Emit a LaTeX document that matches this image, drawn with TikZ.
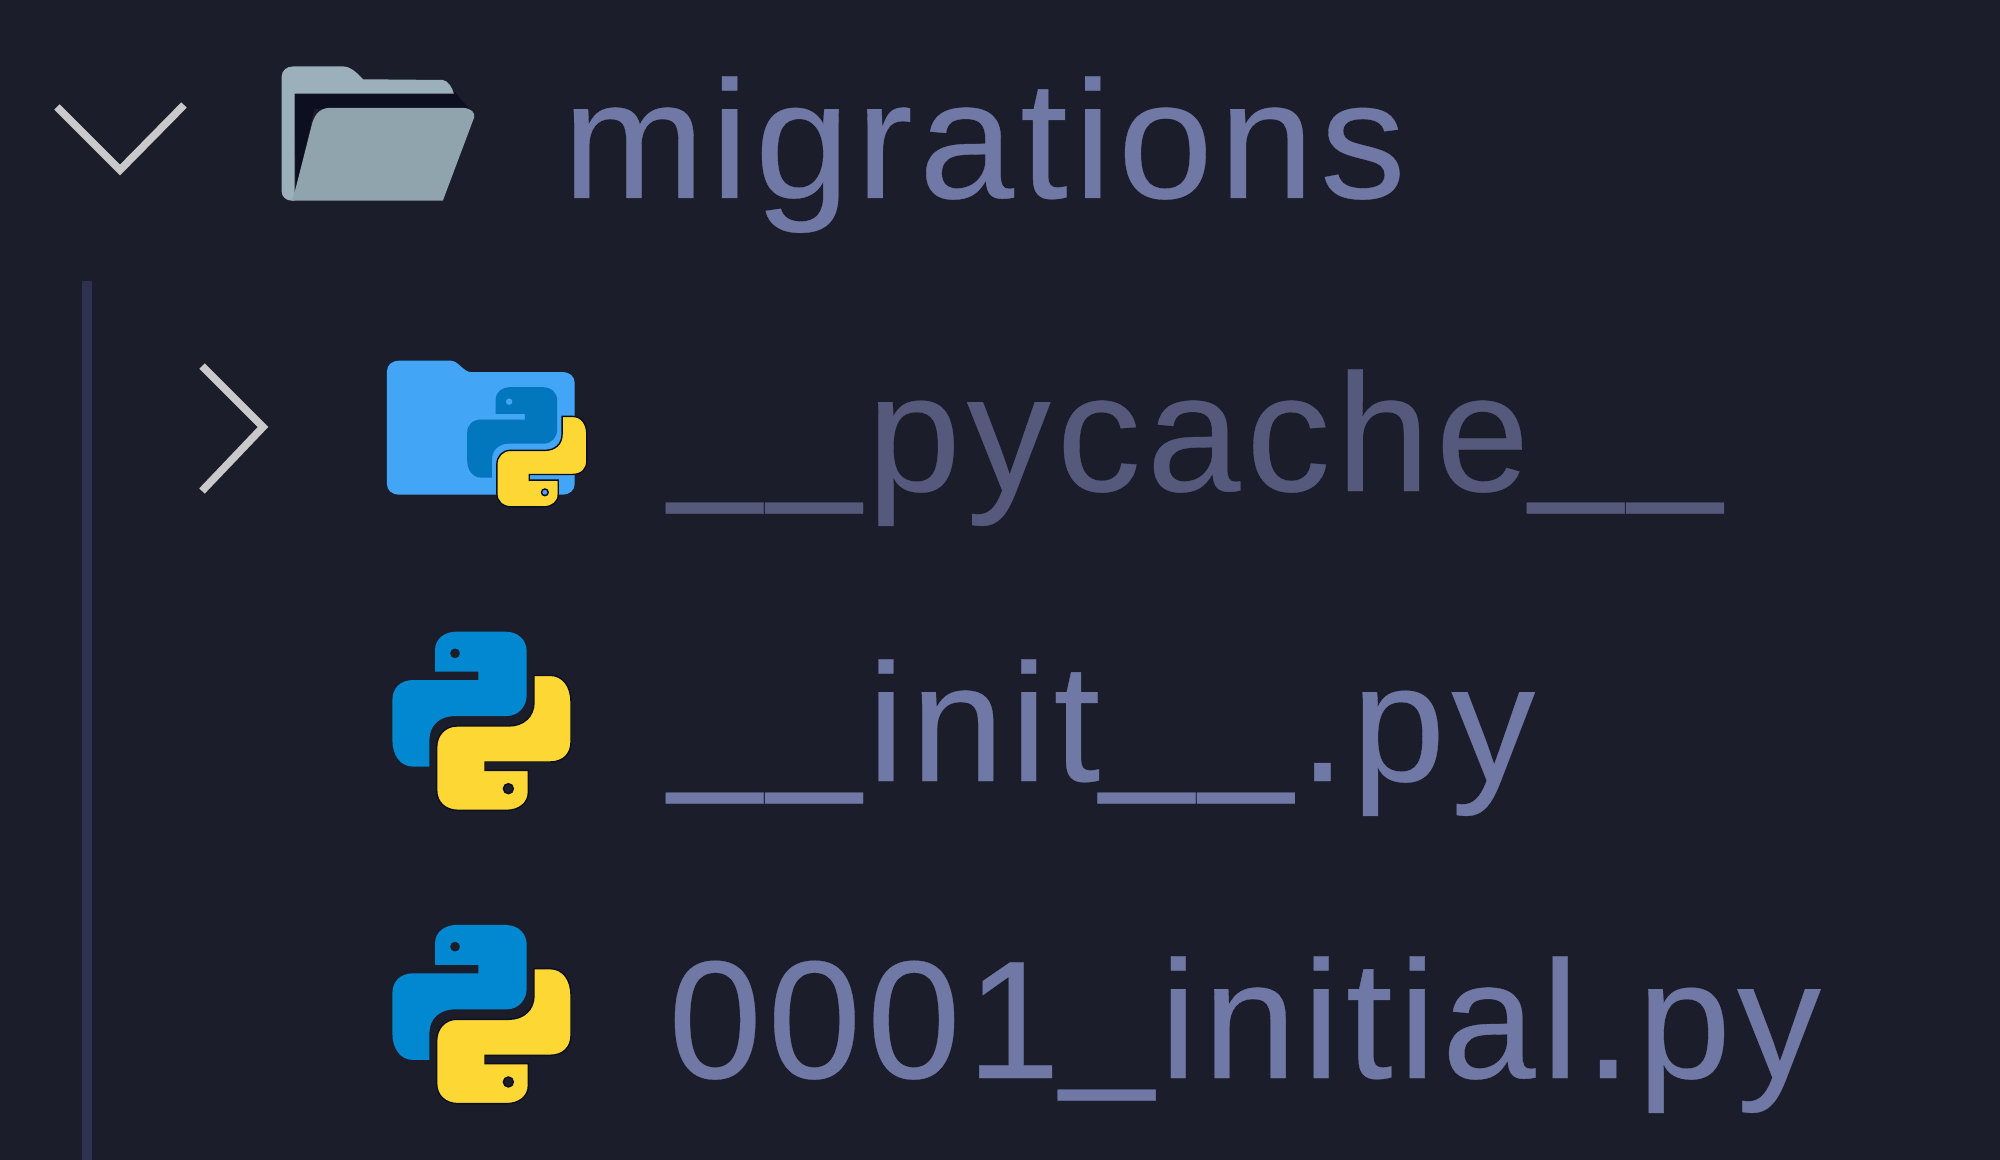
\documentclass[tikz,border=0pt]{standalone}
\usepackage{fontspec}
\setmainfont[LetterSpace = 3.6, FakeBold = 0.2]{Liberation Sans}
\usepackage{tikz}

\definecolor{panelback}{HTML}{1B1D2B}
\definecolor{panelshade}{HTML}{0D0E20}
\definecolor{guideline}{HTML}{2D3250}
\definecolor{chevron}{HTML}{C9C9C9}
\definecolor{nametext}{HTML}{7078A6}
\definecolor{dimtext}{HTML}{555A7C}
\definecolor{folderback}{HTML}{9CB0BC}
\definecolor{folderfront}{HTML}{90A4AE}
\definecolor{folderblue}{HTML}{42A5F5}
\definecolor{pyblue}{HTML}{0288D1}
\definecolor{pybadge}{HTML}{0277BD}
\definecolor{pyyellow}{HTML}{FDD835}

\newcommand{\lowbar}{\raisebox{5.5pt}{\_}\kern 3pt}

\newcommand{\snakehalf}[3]{
  \path [fill = #1, draw = #3, line width = 0.7pt, even odd rule, rotate = #2]
    (-140,-148) -- (-140,-213)
    .. controls (-140,-248) and (-110,-268) .. (-75,-268) -- (70,-268)
    .. controls (110,-268) and (135,-243) .. (135,-208) -- (135,-78)
    .. controls (135,-43) and (110,-15) .. (75,-15) -- (-80,-15)
    .. controls (-125,-15) and (-157,12) .. (-157,57) -- (-157,137) -- (-205,137)
    .. controls (-245,137) and (-268,102) .. (-268,57) -- (-268,-63)
    .. controls (-268,-98) and (-245,-123) .. (-205,-123) -- (-10,-123)
    -- (-10,-148) -- cycle
    (-80,-203) circle [radius = 15];
}

\tikzset{
  pics/python logo/.style = {
    code = {
      \begin{scope}[scale = 1/3]
        \snakehalf{#1}{0}{none}
        \snakehalf{pyyellow}{180}{panelshade}
      \end{scope}
    }
  },
  filename/.style = {
    anchor = base west,
    inner sep = 0pt,
    font = \fontsize{84pt}{90pt}\selectfont,
    text = nametext,
  },
  dimname/.style = {
    filename,
    text = dimtext,
  },
  chevronline/.style = {
    draw = chevron,
    line width = 3.8pt,
    line cap = butt,
  },
}

\begin{document}
\begin{tikzpicture}[x = 0.5pt, y = -0.5pt]
      \fill [panelback] (0,0) rectangle (2000,1160);
      \useasboundingbox (0,0) rectangle (2000,1160);

      \draw [guideline, line width = 5pt] (87,281) -- (87,1160);

      \draw [chevronline] (57,107) -- (120,170) -- (184,105);
      \draw [chevronline] (202,366) -- (263,427) -- (202,491);

      \begin{scope}[xscale = 1/2.45, yscale = 1/2.8]
        \fill [panelshade] (722,255) -- (1112,255) -- (1150,305) -- (770,305)
          -- (725,530) -- cycle;
        \fill [folderback] (690,215)
          .. controls (690,198) and (702,186) .. (718,186) -- (840,186)
          .. controls (860,186) and (875,205) .. (890,222) -- (1085,224)
          .. controls (1098,226) and (1108,245) .. (1112,262) -- (722,262)
          -- (722,562) -- (715,562)
          .. controls (700,562) and (690,550) .. (690,535) -- cycle;
        \fill [folderfront] (725,525) -- (765,345)
          .. controls (772,318) and (785,302) .. (810,302) -- (1135,302)
          .. controls (1155,304) and (1164,315) .. (1162,328) -- (1085,562)
          -- (715,562) -- cycle;
        \fill [folderblue] (948,1040)
          .. controls (948,1022) and (960,1010) .. (978,1010) -- (1105,1010)
          .. controls (1125,1012) and (1135,1042) .. (1155,1042) -- (1378,1042)
          .. controls (1396,1042) and (1408,1054) .. (1408,1072) -- (1408,1355)
          .. controls (1408,1373) and (1396,1385) .. (1378,1385) -- (978,1385)
          .. controls (960,1385) and (948,1373) .. (948,1355) -- cycle;
      \end{scope}

      \pic [scale = 0.67] at (527,447) {python logo = pybadge};
      \pic at (481.7,721) {python logo = pyblue};
      \pic at (481.7,1014.3) {python logo = pyblue};

      \node [filename, xscale = 1.017] (migrations) at (562,198) {migrations};
      \node [dimname]  (pycache) at (668,491) {\lowbar\lowbar pycache\lowbar\lowbar};
      \node [filename] (init)    at (668,781) {\lowbar\lowbar init\lowbar\lowbar.py};
      \node [filename] (initial) at (668,1078) {0001\lowbar initial.py};
    \end{tikzpicture}
\end{document}
